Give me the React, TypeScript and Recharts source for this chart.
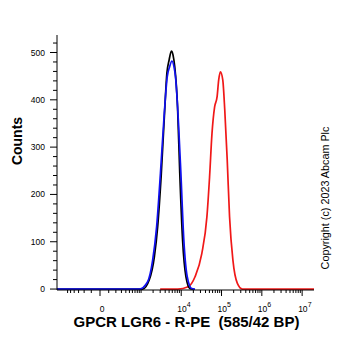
import { LineChart, Line, XAxis, YAxis } from 'recharts';

// fluorescence intensity (R-PE) vs counts
const blackTrace: [number, number][] = [
  [-1500, 0], [1100, 0], [1600, 19], [2150, 68], [2600, 132], [3200, 244],
  [3850, 371], [4400, 456], [5000, 484], [5700, 503], [6250, 495], [6900, 470],
  [8100, 385], [9200, 245], [10800, 104], [13100, 26], [16500, 1], [20000, 0],
];

const blueTrace: [number, number][] = [
  [-1500, 0], [900, 0], [1450, 15], [1950, 61], [2450, 132], [3050, 245],
  [3800, 372], [4500, 449], [5150, 470], [5900, 482], [6600, 470], [7200, 449],
  [8550, 351], [9800, 245], [11600, 104], [14100, 26], [18200, 1], [22000, 0],
];

const redTrace: [number, number][] = [
  [3000, 0], [8200, 0], [14900, 5], [22000, 26], [32400, 75], [43400, 153],
  [50500, 237], [58000, 329], [67400, 385], [77500, 406], [85100, 442],
  [93800, 459], [107300, 442], [120400, 378], [138400, 273], [158200, 153],
  [191600, 61], [247300, 12], [330500, 0], [20000000, 0],
];

const xMajorValues = [0, 1e4, 1e5, 1e6, 1e7];
const xMajorLabels = ['0', '4', '5', '6', '7']; // '0' or power of ten
const xNegMinor = [-600, -500, -400, -300, -200, -100];
const xDecades = [100, 1e3, 1e4, 1e5, 1e6];

const yMajorTicks = [0, 100, 200, 300, 400, 500];
const yMinorStep = 20;
const yTickMax = 520;

const FONT = '"Liberation Sans", Arial, Helvetica, sans-serif';
const LN10 = Math.log(10);
const COFACTOR = 193;
// biexponential-ish display: linear near 0, log10 above ~10^3
const toAxis = (v: number) => Math.asinh(v / COFACTOR) / LN10;

const X_DOMAIN: [number, number] = [-1.067, 5.31];
const Y_DOMAIN: [number, number] = [-2, 537];

const toPoints = (trace: [number, number][]) =>
  trace.map(([v, count]) => ({ t: toAxis(v), count }));

const tickInfo = new Map<number, string | null>();
xMajorValues.forEach((v, i) => tickInfo.set(toAxis(v), xMajorLabels[i]));
xNegMinor.forEach((v) => tickInfo.set(toAxis(v), null));
xDecades.forEach((d) => {
  for (let k = 1; k <= 9; k++) {
    const t = toAxis(k * d);
    if (!tickInfo.has(t)) tickInfo.set(t, null);
  }
});
const xTicks = Array.from(tickInfo.keys()).sort((a, b) => a - b);

const yTicks: number[] = [];
for (let v = 0; v <= yTickMax; v += yMinorStep) yTicks.push(v);

function XTick({ x, y, payload }: any) {
  const label = tickInfo.get(payload.value);
  const major = label != null;
  return (
    <g>
      <line x1={x} x2={x} y1={y} y2={y + (major ? 6 : 3)} stroke="#000" strokeWidth={1} />
      {label === '0' && (
        <text x={x + 2} y={y + 22} textAnchor="middle" fontSize={8.5} fontFamily={FONT} fill="#000">0</text>
      )}
      {major && label !== '0' && (
        <>
          <text x={x - 4} y={y + 22} fontSize={8.5} fontFamily={FONT} fill="#000">10</text>
          <text x={x + 5.5} y={y + 17} fontSize={7} fontFamily={FONT} fill="#000">{label}</text>
        </>
      )}
    </g>
  );
}

function YTick({ x, y, payload }: any) {
  const major = yMajorTicks.includes(payload.value);
  return (
    <g>
      <line x1={x - (major ? 7 : 4)} x2={x} y1={y} y2={y} stroke="#000" strokeWidth={1} />
      {major && (
        <text x={x - 12} y={y + 3} textAnchor="end" fontSize={8.5} fontFamily={FONT} fill="#000">
          {payload.value}
        </text>
      )}
    </g>
  );
}

export default function App() {
  return (
    <div style={{ position: 'absolute', left: 0, top: 0, width: 362, height: 351, background: '#fff' }}>
      <LineChart width={362} height={351} margin={{ top: 35, right: 48, bottom: 0, left: 0 }}>
        <XAxis
          dataKey="t"
          type="number"
          domain={X_DOMAIN}
          allowDataOverflow
          ticks={xTicks}
          interval={0}
          height={61}
          tickSize={0}
          tickMargin={0}
          tickLine={false}
          tick={<XTick />}
          axisLine={{ stroke: '#000' }}
        />
        <XAxis xAxisId="top" orientation="top" type="number" domain={X_DOMAIN} height={0} tick={false} tickLine={false} axisLine={{ stroke: '#000' }} />
        <YAxis
          type="number"
          domain={Y_DOMAIN}
          allowDataOverflow
          ticks={yTicks}
          interval={0}
          width={57}
          tickSize={0}
          tickMargin={0}
          tickLine={false}
          tick={<YTick />}
          axisLine={{ stroke: '#000' }}
        />
        <YAxis yAxisId="right" orientation="right" type="number" domain={Y_DOMAIN} width={0} tick={false} tickLine={false} axisLine={{ stroke: '#000' }} />
        <Line data={toPoints(redTrace)} dataKey="count" type="monotone" stroke="#f01818" strokeWidth={1.7} dot={false} isAnimationActive={false} />
        <Line data={toPoints(blackTrace)} dataKey="count" type="monotone" stroke="#000" strokeWidth={1.7} dot={false} isAnimationActive={false} />
        <Line data={toPoints(blueTrace)} dataKey="count" type="monotone" stroke="#1010f0" strokeWidth={1.7} dot={false} isAnimationActive={false} />
      </LineChart>
      <svg width={362} height={351} style={{ position: 'absolute', left: 0, top: 0, pointerEvents: 'none' }}>
        <text transform="translate(22,141) rotate(-90)" textAnchor="middle" fontSize={14} fontWeight="bold" fontFamily={FONT} fill="#000">
          Counts
        </text>
        <text x={186.5} y={327} textAnchor="middle" fontSize={15} fontWeight="bold" fontFamily={FONT} fill="#000" style={{ whiteSpace: 'pre' }}>
          GPCR LGR6 - R-PE  (585/42 BP)
        </text>
        <text transform="translate(329,198) rotate(-90)" textAnchor="middle" fontSize={10.8} fontFamily={FONT} fill="#000">
          Copyright (c) 2023 Abcam Plc
        </text>
      </svg>
    </div>
  );
}
